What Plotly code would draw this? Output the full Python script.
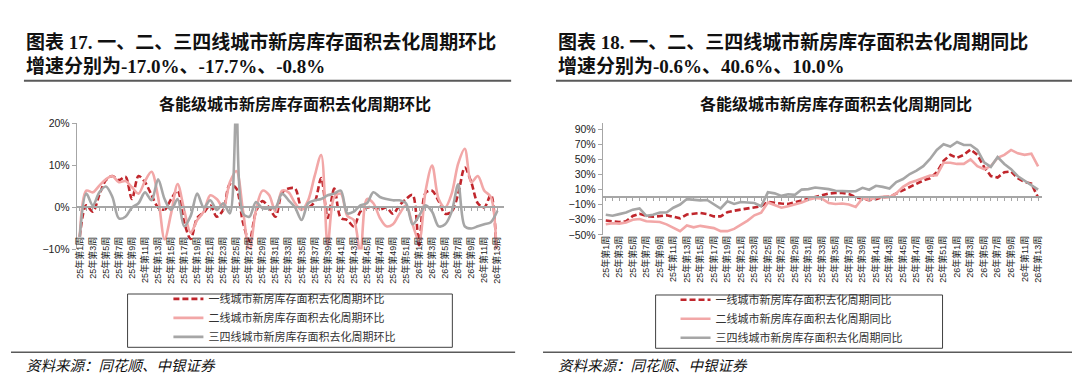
import plotly.graph_objects as go

# ---------------- data ----------------
weeks = [f"25年第{i}周" for i in range(1, 53)] + [f"26年第{i}周" for i in range(1, 14)]

# 环比 (%), left chart
hb_tier1 = [-7, 0.5, -1, 3, 6.5, 7.5, 6.5, 7.3, 2, 7.5, 6, 3, 0, -0.5, 2, 4, -3.5, -7.5, -2.5, -1.2,
            0.5, -2.2, -0.5, 5.5, 4.5, -3.5, -8, -1, 1.5, 0, -2.2, 3.5, 4.5, 4.5, 0, 0, 1.3, 7, -2.5, 4.5,
            -2.5, -3, -4.5, -1, 0, 0, -0.5, 0, -1.5, 0.5, 2, 3, -9, 3.5, 4, 1.5, -1.5, -1, 3.3, 9.5,
            6, 1, 0, 3, -17.0]
hb_tier2 = [-7, 4, 3.6, 5.2, 6.7, 7.5, 6, 6.3, 4.8, 3.3, 6.3, 8.5, 2.5, -7.6, -1.4, 5.6, -0.6, -6, -3, -1,
            2.9, 2, 0, 6, 8.7, -0.6, -10.5, -0.6, 4, 3, -1, 4, 3.6, 1, -0.6, 1.7, 7.5, 12.5, -9, 2.5,
            3.3, -2, -3, -11, 2, 1, -2.5, -4.5, -4, -1.5, 0.5, -4, -8, 4, 10, 2, 0, 3.3, 10.5, 14,
            6, 7.5, 4, 2.5, -17.7]
hb_tier3 = [-7, 3.3, 0.5, 3.6, 5, 2.5, -2.6, -2.2, 0, 1, 3.6, 1.7, 6.7, 2, -0.6, 2, -4.5, -2, 3.3, 0,
            1.7, -0.6, 1, -1.4, 24, -1.4, -2.2, 1.3, -0.2, -0.2, 0, 3.3, 1.7, 0, -3, 1, 1.7, 2, 2.9, 3.3,
            4, -1.4, -1, 0.5, 1, 3.6, 2.5, 2, 1.7, 1.7, 1, -4, -2, 0.5, -1, -4.5, -4, -1, 5.5, -4.5,
            -5, -4.5, -4, -3.5, -0.8]

# 同比 (%), right chart
yoy_tier1 = [-31, -32, -33, -32, -25, -22, -25, -26, -25, -24, -26, -28, -23, -22, -21, -22.5, -25.5, -25.5, -20, -18,
             -16.6, -15, -13, -12, -6.4, -7.7, -8.5, -9, -6.8, -4.7, -2.6, -0.4, 2, 4.7, 5.5, 5.5, 4, 0, -2, -4,
             -2.6, 0, 0.5, 4.7, 10, 13.6, 18, 22, 25, 33, 48, 56, 52, 56, 63, 56, 40, 28, 26, 33,
             34, 25, 20, 18, -0.6]
yoy_tier2 = [-36, -34.5, -35, -33.5, -30, -29, -32, -33, -33, -36, -41, -45, -37.5, -40, -38, -40, -41, -45, -45, -42,
             -37, -31, -24, -20.5, -7, -11, -14, -12, -10, -7, -3.4, -1, -2, -7.7, -9, -8.5, -9.8, -13, -1.3, -3.8,
             -0.4, 0.4, 0, 5, 13.6, 19, 22, 25, 28.5, 29, 45.5, 45.5, 44, 44, 50, 41, 37, 41, 52, 56,
             62.5, 58, 56, 57.5, 40.6]
yoy_tier3 = [-23.4, -24.7, -22.5, -20.4, -16.6, -15, -24.7, -23.4, -20.4, -20.4, -14, -9.8, -2.6, -3.4, -4.3, -3.8, -9, -15, -5.5, -9,
             -6.4, -6.8, -7.7, -12, 6.4, 5, 1.7, 3.8, 3, 10, 10.6, 12.8, 12, 10.6, 8.5, 8, 7.7, 8, 12.3, 9.8,
             15, 13.6, 11.5, 20, 24, 30.6, 35, 41, 50.6, 62.5, 70, 67, 73, 69, 69, 62.5, 46, 40, 53, 44,
             37, 27.7, 22, 15.7, 10.0]

names_hb = ["一线城市新房库存面积去化周期环比", "二线城市新房库存面积去化周期环比", "三四线城市新房库存面积去化周期环比"]
names_yoy = ["一线城市新房库存面积去化周期同比", "二线城市新房库存面积去化周期同比", "三四线城市新房库存面积去化周期同比"]

# ---------------- style ----------------
W, H = 1080, 386
RED, PINK, GRAY = "#c0262c", "#f2a7a7", "#a6a6a6"
AX = "#a6a6a6"
CJK = "Noto Sans CJK SC"
HEAD = "Liberation Serif, Noto Sans CJK SC"
TICK = "Liberation Sans, Noto Sans CJK SC"


def fx(x):
    return x / W


def fy(y):
    return 1 - y / H


styles = [(RED, "6px,3px"), (PINK, "solid"), (GRAY, "solid")]

fig = go.Figure()
for vals, name, (col, dash) in zip([hb_tier1, hb_tier2, hb_tier3], names_hb, styles):
    fig.add_trace(go.Scatter(x=weeks, y=vals, name=name, mode="lines", xaxis="x", yaxis="y",
                             legend="legend",
                             line=dict(color=col, width=2.6, dash=dash, shape="spline", smoothing=0.9)))
for vals, name, (col, dash) in zip([yoy_tier1, yoy_tier2, yoy_tier3], names_yoy, styles):
    fig.add_trace(go.Scatter(x=weeks, y=vals, name=name, mode="lines", xaxis="x2", yaxis="y2",
                             legend="legend2",
                             line=dict(color=col, width=2.6, dash=dash)))
# carriers for the zero-line tick axes
fig.add_trace(go.Scatter(x=weeks, y=[None] * len(weeks), xaxis="x3", yaxis="y", showlegend=False,
                         hoverinfo="skip"))
fig.add_trace(go.Scatter(x=weeks, y=[None] * len(weeks), xaxis="x4", yaxis="y2", showlegend=False,
                         hoverinfo="skip"))

# geometry
L_dom_x = [fx(66), fx(495)]
L_dom_y = [fy(243), fy(113)]
L_rng_x = [-0.46, 65.04]
L_rng_y = [-10, 20]
R_dom_x = [fx(594), fx(1035)]
R_dom_y = [fy(228), fy(113)]
R_rng_x = [-0.44, 64.6]
R_rng_y = [-50, 97.5]


def zero_pos(dom, rng):
    return dom[0] + (0 - rng[0]) / (rng[1] - rng[0]) * (dom[1] - dom[0])


lab_axis = dict(type="category", categoryorder="array", categoryarray=weeks,
                tickmode="array", tickvals=weeks[::2], ticktext=weeks[::2], tickangle=-90,
                showline=False, ticks="", showgrid=False, zeroline=False, anchor="free",
                tickfont=dict(family=TICK, size=9, color="#222"))
zero_axis = dict(type="category", categoryorder="array", categoryarray=weeks,
                 tickmode="array", tickvals=weeks, showticklabels=False,
                 showline=True, linecolor=AX, linewidth=1.5, ticks="outside", ticklen=3,
                 tickcolor=AX, tickwidth=1, showgrid=False, zeroline=False, anchor="free")
y_axis = dict(showline=True, linecolor=AX, linewidth=1, ticks="outside", ticklen=4, tickcolor=AX,
              showgrid=False, zeroline=False, ticksuffix="%",
              tickfont=dict(family=TICK, size=10.5, color="#222"))

fig.update_layout(
    width=W, height=H, margin=dict(l=0, r=0, t=0, b=0),
    paper_bgcolor="white", plot_bgcolor="rgba(0,0,0,0)",
    xaxis=dict(lab_axis, domain=L_dom_x, range=L_rng_x, position=fy(227)),
    yaxis=dict(y_axis, domain=L_dom_y, range=L_rng_y, dtick=10, anchor="x"),
    xaxis3=dict(zero_axis, domain=L_dom_x, range=L_rng_x, overlaying="x",
                position=zero_pos(L_dom_y, L_rng_y)),
    xaxis2=dict(lab_axis, domain=R_dom_x, range=R_rng_x, position=fy(226)),
    yaxis2=dict(y_axis, domain=R_dom_y, range=R_rng_y, tick0=-50, dtick=20, anchor="x2"),
    xaxis4=dict(zero_axis, domain=R_dom_x, range=R_rng_x, overlaying="x2",
                position=zero_pos(R_dom_y, R_rng_y)),
    legend=dict(x=fx(158), y=fy(279), xanchor="left", yanchor="top", bgcolor="rgba(0,0,0,0)",
                borderwidth=0, tracegroupgap=0, font=dict(family=CJK, size=11, color="#333")),
    legend2=dict(x=fx(667), y=fy(280), xanchor="left", yanchor="top", bgcolor="rgba(0,0,0,0)",
                 borderwidth=0, tracegroupgap=0, font=dict(family=CJK, size=11, color="#333")),
    showlegend=True,
)

# legend boxes
fig.add_shape(type="rect", xref="paper", yref="paper", x0=fx(117), x1=fx(443), y0=fy(344), y1=fy(289),
              line=dict(color="#404040", width=1))
fig.add_shape(type="rect", xref="paper", yref="paper", x0=fx(647), x1=fx(935), y0=fy(345), y1=fy(290),
              line=dict(color="#404040", width=1))

# header rules and source rules
for x0, x1 in [(13, 502), (547, 1068)]:
    fig.add_shape(type="line", xref="paper", yref="paper", x0=fx(x0), x1=fx(x1), y0=fy(69), y1=fy(69),
                  line=dict(color="#5a5a5a", width=2))
    fig.add_shape(type="line", xref="paper", yref="paper", x0=fx(x0 - 13), x1=fx(x1 + 4), y0=fy(349),
                  y1=fy(349), line=dict(color="#5a5a5a", width=1.5))

texts = [
    ("图表 17. 一、二、三四线城市新房库存面积去化周期环比", 13, 29, 19, HEAD, "left", True, False),
    ("增速分别为-17.0%、-17.7%、-0.8%", 13, 54, 19, HEAD, "left", True, False),
    ("图表 18. 一、二、三四线城市新房库存面积去化周期同比", 547, 29, 19, HEAD, "left", True, False),
    ("增速分别为-0.6%、40.6%、10.0%", 547, 54, 19, HEAD, "left", True, False),
    ("各能级城市新房库存面积去化周期环比", 285, 92, 16, CJK, "center", True, False),
    ("各能级城市新房库存面积去化周期同比", 828, 92, 16, CJK, "center", True, False),
    ("资料来源：同花顺、中银证券", 13, 362, 14.5, CJK, "left", False, True),
    ("资料来源：同花顺、中银证券", 547, 362, 14.5, CJK, "left", False, True),
]
for txt, x, y, size, fam, anchor, bold, italic in texts:
    t = f"<b>{txt}</b>" if bold else txt
    if italic:
        t = f"<i>{t}</i>"
    fig.add_annotation(text=t, x=fx(x), y=fy(y), xref="paper", yref="paper", xanchor=anchor,
                       yanchor="middle", showarrow=False,
                       font=dict(family=fam, size=size, color="#111"))

fig.write_html("out.html")
